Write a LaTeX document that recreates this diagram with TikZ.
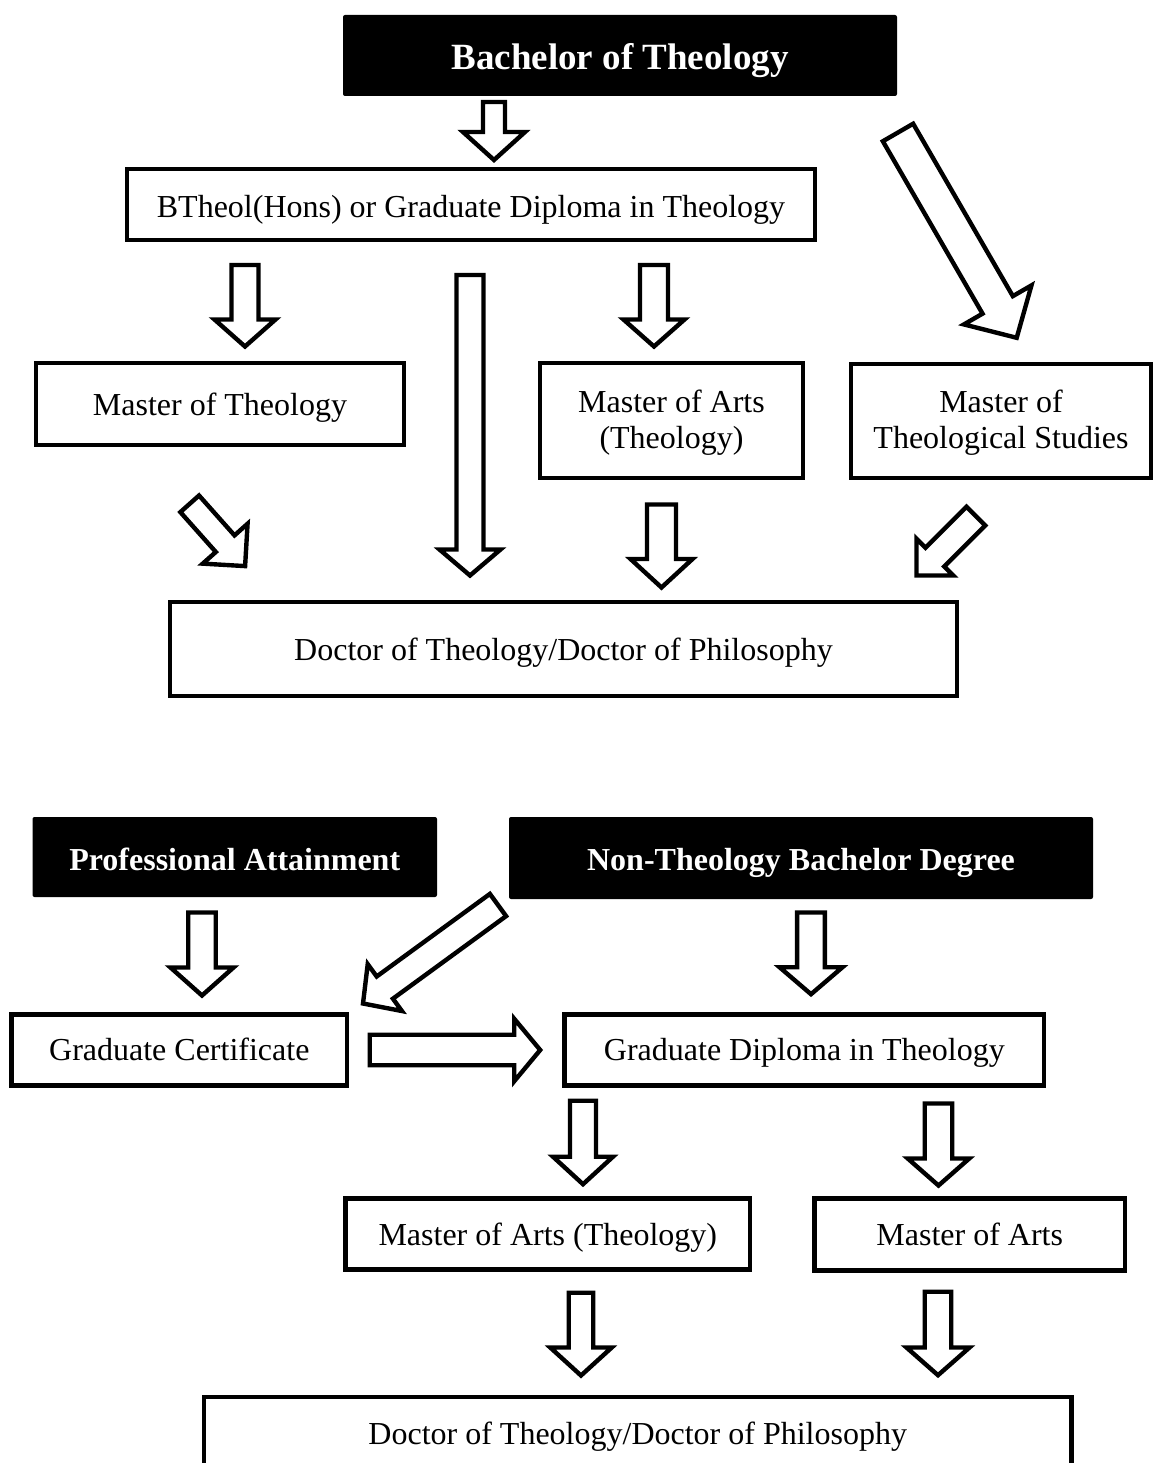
\documentclass[tikz,border=0pt]{standalone}
\usepackage{fontspec}
\setmainfont{Liberation Serif}
\usetikzlibrary{calc}
\newcommand\blockarr[5]{%
  \coordinate (ba-base) at ($(#2)!#5!(#1)$);
  \draw[barrow] ($(#1)!#3!90:(#2)$) -- ($(ba-base)!#3!90:(#2)$) -- ($(ba-base)!#4!90:(#2)$) -- (#2)
     -- ($(ba-base)!#4!-90:(#2)$) -- ($(ba-base)!#3!-90:(#2)$) -- ($(#1)!#3!-90:(#2)$) -- cycle;
}
\tikzset{
  box/.style={draw, line width=4.6pt, inner sep=0pt, fill=white,
    font=\fontsize{32pt}{36pt}\selectfont},
  one/.style={text height=#1, text depth=8pt},
  two/.style={text height=25pt, text depth=41.4pt},
  title/.style={fill=black, rounded corners=2pt, inner sep=0pt, text=white,
    text depth=8pt, font=\bfseries\fontsize{32pt}{35.2pt}\selectfont},
  barrow/.style={draw, line width=4.4pt, fill=white, line join=miter},
}
\begin{document}
\begin{tikzpicture}[x=1pt,y=-1pt]
\useasboundingbox (0,0) rectangle (1155,1463);
\fill[white] (0,0) rectangle (1155,1463);
\clip (0,0) rectangle (1155,1463);

% ---------- top section ----------
\node[title, text height=37pt, font=\bfseries\fontsize{37pt}{40pt}\selectfont,
      minimum width=554pt, minimum height=81pt] (bth) at (620,55.5) {Bachelor of Theology};
\node[box, one=35pt, minimum width=688pt, minimum height=71pt] (bhons) at (471,204.5)
  {BTheol(Hons) or Graduate Diploma in Theology};
\node[box, one=30pt, minimum width=368pt, minimum height=82pt] (mth) at (220,404) {Master of Theology};
\node[box, two, minimum width=263pt, minimum height=115pt] (mat) at (671.5,420.5)
  {\begin{tabular}[t]{@{}c@{}}Master of Arts\\(Theology)\end{tabular}};
\node[box, two, minimum width=300pt, minimum height=114pt] (mts) at (1001,421)
  {\begin{tabular}[t]{@{}c@{}}Master of\\Theological Studies\end{tabular}};
\node[box, one=30pt, minimum width=787pt, minimum height=94pt] (doc1) at (563.5,649)
  {Doctor of Theology/Doctor of Philosophy};

% ---------- bottom section ----------
\node[title, text height=34pt, minimum width=404.5pt, minimum height=80pt] (pa) at (234.75,857)
  {Professional Attainment};
\node[title, text height=32pt, minimum width=584pt, minimum height=82pt] (nt) at (801,858)
  {Non-Theology Bachelor Degree};
\node[box, one=29.4pt, minimum width=335.4pt, minimum height=70.6pt] (gc) at (179.3,1050)
  {Graduate Certificate};
\node[box, one=29.4pt, minimum width=479.3pt, minimum height=70.6pt] (gd) at (804.35,1050)
  {Graduate Diploma in Theology};
\node[box, one=30pt, minimum width=404.4pt, minimum height=71pt] (mat2) at (547.8,1234.2)
  {Master of Arts (Theology)};
\node[box, one=29pt, minimum width=310.5pt, minimum height=72pt] (ma) at (969.75,1234.7)
  {Master of Arts};
\node[box, one=21pt, minimum width=867.9pt, minimum height=81pt] (doc2) at (637.75,1437.5)
  {Doctor of Theology/Doctor of Philosophy};

% ---------- arrow end points ----------
\coordinate (a1t) at (494,102);     \coordinate (a1h) at (494,160);
\coordinate (a2t) at (245,265);     \coordinate (a2h) at (245,346.5);
\coordinate (a3t) at (470,275);     \coordinate (a3h) at (470,575.5);
\coordinate (a4t) at (654,265);     \coordinate (a4h) at (654,346.5);
\coordinate (a5t) at (898,132.5);   \coordinate (a5h) at (1016.7,337.8);
\coordinate (a6t) at (189.7,503.8); \coordinate (a6h) at (245.1,566.1);
\coordinate (a7t) at (661.5,504.5); \coordinate (a7h) at (661.5,587.5);
\coordinate (a8t) at (975.9,516.1); \coordinate (a8h) at (916.5,575.5);
\coordinate (b1t) at (202,912.5);   \coordinate (b1h) at (202,995.5);
\coordinate (b2t) at (498,905);     \coordinate (b2h) at (363,1003.5);
\coordinate (b3t) at (369.75,1050); \coordinate (b3h) at (540.2,1050);
\coordinate (b4t) at (811,912.5);   \coordinate (b4h) at (811,994.2);
\coordinate (b5t) at (583,1100.75); \coordinate (b5h) at (583,1184.2);
\coordinate (b6t) at (938.5,1103.5);\coordinate (b6h) at (938.5,1185.5);
\coordinate (b7t) at (581,1292.75); \coordinate (b7h) at (581,1375.5);
\coordinate (b8t) at (938,1291.75); \coordinate (b8h) at (938,1375.2);

% ---------- block arrows ----------
\blockarr{a1t}{a1h}{11pt}{31pt}{28pt}
\blockarr{a2t}{a2h}{13.5pt}{30.5pt}{27pt}
\blockarr{a3t}{a3h}{13.5pt}{30.5pt}{26pt}
\blockarr{a4t}{a4h}{14pt}{30.5pt}{27pt}
\blockarr{a5t}{a5h}{17.5pt}{39pt}{38pt}
\blockarr{a6t}{a6h}{12.5pt}{30pt}{30pt}
\blockarr{a7t}{a7h}{14.5pt}{31pt}{28.5pt}
\blockarr{a8t}{a8h}{13.25pt}{26pt}{26pt}
\blockarr{b1t}{b1h}{13.75pt}{31.5pt}{28pt}
\blockarr{b2t}{b2h}{13.75pt}{29pt}{27pt}
\blockarr{b3t}{b3h}{15.25pt}{31.25pt}{26pt}
\blockarr{b4t}{b4h}{13.9pt}{31.5pt}{27pt}
\blockarr{b5t}{b5h}{13pt}{30pt}{27.5pt}
\blockarr{b6t}{b6h}{13.75pt}{30.75pt}{27pt}
\blockarr{b7t}{b7h}{12.25pt}{30.75pt}{28pt}
\blockarr{b8t}{b8h}{13.25pt}{31.5pt}{27.7pt}
\end{tikzpicture}
\end{document}
